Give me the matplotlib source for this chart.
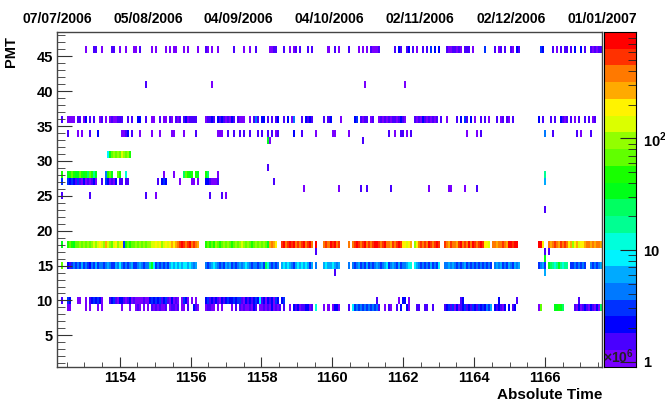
#!/usr/bin/env python3
"""
PMT hit map vs absolute time (ROOT COLZ style, log z)
"""

import colorsys
import numpy as np
import matplotlib
matplotlib.use("Agg")
import matplotlib.pyplot as plt
from matplotlib.colors import ListedColormap, BoundaryNorm
from matplotlib.ticker import MultipleLocator, FixedLocator, NullFormatter

# time axis, units of 1e6 s : 07/07/2006 -> 01/01/2007
t_min, t_max = 1152.2304, 1167.6096
n_bins = 272
n_pmt = 48
z_min, z_max = 0.9, 900.0
n_levels = 20
# one character per time bin, colour level (0 = violet ... j = red)
level_codes = "0123456789abcdefghij"

date_labels = ["07/07/2006", "05/08/2006", "04/09/2006", "04/10/2006",
               "02/11/2006", "02/12/2006", "01/01/2007"]

# (first bin, levels) pieces for each PMT row
pmt46 = [(14, "0...11..0....11..0..0...00.1.....0.0....0.0.00...0.0"),
         (70, "0...10.0..0"), (88, "1....0..0..1"),
         (106, "0011...1..0.01.1...1.1"), (135, "0"),
         (138, "1.0....1....0.0.0.10001.......1.21..12.1.0..1.1.3.2.2...10011010.1"),
         (204, "11.0"), (213, "3"), (218, "1.01.1"), (226, "10.21"), (241, "32"),
         (247, "1"), (249, "0.1.11"), (256, "1.2"), (261, "2.1"), (266, "101011")]
pmt41 = [(44, "1"), (77, "0"), (153, "0"), (173, "0")]
pmt36 = [(0, "..1..0000.11.02.1.1..01.0.0100111..1.1..22..1..00..1.00.10.101.12011"),
         (68, "11....01121.212101021.1000..0.141.22.1.1.12..1.2.04...1.2121.....1.1"),
         (136, "2....0......23.1011.01..01010101101210....101021010101.1..0....1.2.3"),
         (204, "1.2.0..1.1.0...1.01.10.1............2.1...1.1..2101.1.0.1..1.1.01...")]
pmt34 = [(0, ".....1....0.0...1...2...........0012.1...0.....0...0.....00....0...."),
         (68, ".1..........000..1..1..1.1..1...1.1..1.1.01.......2...1......0......"),
         (136, ".00......0...................1..0..11.0.1..........................."),
         (204, "0....0.1...............................4...1...........1.0....1.....")]
pmt33 = [(105, "a0"), (152, "1")]
pmt31 = [(25, "6acdcdcedcdb")]
pmt29 = [(105, "1")]
pmt28 = [(2, "b"), (5, "abcbaacbab9cb8a"), (24, "4bca"), (30, "cb"), (34, "7"),
         (53, "0"), (58, "0"), (63, "9cbab"), (69, "ba"), (74, "b9"), (80, "0"),
         (243, "8")]
pmt27 = [(2, "3"), (5, "323213102010120"), (22, "1.32"), (26, "0102"), (31, "11"),
         (34, "11"), (50, "1"), (52, "232"), (61, "0"), (67, "0"), (68, "0.0"),
         (74, "2210001"), (108, "1"), (243, "5")]
pmt26 = [(123, "0"), (140, "0"), (151, "1"), (154, "1"), (166, "1"), (185, "0"),
         (195, "00"), (203, "0"), (209, "1")]
pmt25 = [(2, "1"), (16, "1"), (44, "1"), (49, "0"), (76, "1"), (82, "1.0")]
pmt23 = [(243, "1")]
pmt18 = [(2, "a"),
         (5, "bcbaccdcdcdcdedefedgedcefdef3bcbccdcdcdcddeefefdefefgfghijihijh"),
         (68, "ihg"), (74, "bcbcbdcbcdcdcbcdcdedcdcbcdcdcd"), (104, "caghgf"),
         (112, "ijhijijhihijhijh"), (129, "j"), (133, "hih"),
         (136, "jijhi"), (145, "h"), (147, "hijihijhihijjihijhhgihiji"),
         (172, "ffefg"), (178, "dfhihihjihiji"), (193, "ihgihhgijhihj"),
         (206, "hjihijih"), (213, "ffe"), (217, "hhghhihgjjijj"), (240, "jjf"),
         (245, "hghihgihih"), (255, "fgdfgef"), (262, "fgh"), (265, "hghghhg")]
pmt17 = [(129, "1"), (243, "1"), (245, "1")]
pmt16 = [(243, "a")]
pmt15 = [(2, "c"),
         (5, "213434353432435344345433546434345334543448a63434343565656566565"),
         (68, "45"), (74, "434565434354534345456543443453"), (104, "97"),
         (106, "43434"), (112, "5656543565656535"), (129, "4"), (133, "565"),
         (136, "56545"), (145, "4"), (147, "434534353434543456345435344567"),
         (178, "6543434353436"), (193, "445454343454"),
         (204, "3434343434343"), (218, "4545343543545"), (240, "3453"),
         (245, "a9878a8788"), (256, "33434343"), (266, "434345")]
pmt14 = [(138, "1"), (243, "5")]
pmt10 = [(2, "1"),
         (5, "32...00..0.123232" "0...12310221012010000100232323123102010.0320.0"),
         (69, "0"), (74, "2312121021232232331021212326120212032"), (112, "23"),
         (159, "1"), (170, "0"), (172, "22"), (175, "0"), (201, "12"),
         (220, "2"), (229, "1"), (260, "1")]
pmt9 = [(5, "00"), (14, "0.0"), (20, "0.0"), (32, "0"), (36, "0"),
        (39, "010.0.0.10101001.01101.00.1"),
        (68, "210"), (74, "0110"), (78, "0.0.0"), (87, "0.1"), (91, "1010"),
        (95, "01021.001"), (104, "01020101"), (113, "1"), (116, "0"),
        (118, "2120112201"), (129, "7"), (133, "0.0"),
        (137, "0220"), (145, "1"), (147, "6343434343434"), (160, "1"),
        (163, "0.10"), (169, "1.2"), (174, "20"), (179, "11"), (183, "11"),
        (187, "1"), (193, "1231302012312"),
        (204, "1213213232435"), (218, "2121"), (222, "02.2"), (227, "12"),
        (240, "0c"), (248, "aaba9"), (258, "1020121021020"), (271, "9")]

rows = [(46, pmt46), (41, pmt41), (36, pmt36), (34, pmt34), (33, pmt33),
        (31, pmt31), (29, pmt29), (28, pmt28), (27, pmt27), (26, pmt26),
        (25, pmt25), (23, pmt23), (18, pmt18), (17, pmt17), (16, pmt16),
        (15, pmt15), (14, pmt14), (10, pmt10), (9, pmt9)]


def pretty_color(k):
    """ROOT 'pretty' palette (50 hues, violet -> red), sampled for contour k"""
    idx = int((k + 0.99) * 50 / n_levels)
    hue = 280.0 - idx * 280.0 / 49
    return colorsys.hls_to_rgb(hue / 360.0, 0.5, 1.0)


lo, hi = np.log10(z_min), np.log10(z_max)
step = (hi - lo) / n_levels
bounds = np.logspace(lo, hi, n_levels + 1)
centers = 10 ** (lo + (np.arange(n_levels) + 0.5) * step)
cmap = ListedColormap([pretty_color(k) for k in range(n_levels)])
norm = BoundaryNorm(bounds, n_levels)

z = np.full((n_pmt, n_bins), np.nan)
for pmt, pieces in rows:
    for start, codes in pieces:
        for j, c in enumerate(codes):
            b = start + j
            if c != '.' and b < n_bins:
                z[pmt - 1, b] = centers[level_codes.index(c)]

plt.rcParams['font.family'] = ['Liberation Sans', 'DejaVu Sans']
plt.rcParams['font.weight'] = 'bold'
plt.rcParams['mathtext.fontset'] = 'custom'
plt.rcParams['mathtext.rm'] = 'Liberation Sans:bold'
plt.rcParams['mathtext.bf'] = 'Liberation Sans:bold'

W, H = 665.0, 401.0
x0, x1, y0, y1 = 57.0, 602.0, 32.0, 366.7
fig = plt.figure(figsize=(W / 100, H / 100), dpi=100)
ax = fig.add_axes([x0 / W, 1 - y1 / H, (x1 - x0) / W, (y1 - y0) / H])
cax = fig.add_axes([604 / W, 1 - y1 / H, 31.7 / W, (y1 - y0) / H])

x_edges = np.linspace(t_min, t_max, n_bins + 1)
y_edges = np.arange(n_pmt + 1) + 0.5
ax.pcolormesh(x_edges, y_edges, np.ma.masked_invalid(z), cmap=cmap, norm=norm)
ax.set_xlim(t_min, t_max)
ax.set_ylim(0.5, n_pmt + 0.5)

ax.xaxis.set_major_locator(MultipleLocator(2))
ax.xaxis.set_minor_locator(MultipleLocator(0.5))
ax.yaxis.set_major_locator(MultipleLocator(5))
ax.yaxis.set_minor_locator(MultipleLocator(1))
ax.xaxis.set_major_formatter(plt.FuncFormatter(lambda v, p: '%d' % round(v)))
ax.tick_params(which='both', direction='in', top=False, right=False,
               color='#333333', labelsize=10.5)
ax.tick_params(axis='x', which='major', length=7, pad=3)
ax.tick_params(axis='x', which='minor', length=3.5)
ax.tick_params(axis='y', which='major', length=11, pad=3)
ax.tick_params(axis='y', which='minor', length=5.5)
for s in ax.spines.values():
    s.set_color('#444444')
    s.set_linewidth(1.0)

# palette axis
cax.pcolormesh([0, 1], bounds, centers.reshape(-1, 1), cmap=cmap, norm=norm)
cax.set_yscale('log')
cax.set_ylim(z_min, z_max)
cax.set_xlim(0, 1)
cax.set_xticks([])
cax.yaxis.set_ticks_position('right')
cax.yaxis.set_major_locator(FixedLocator([1, 10, 100]))
cax.yaxis.set_minor_locator(FixedLocator(
    [m * d for d in (1, 10, 100) for m in range(2, 10) if m * d < z_max]))
cax.yaxis.set_minor_formatter(NullFormatter())
cax.yaxis.set_major_formatter(plt.FixedFormatter(['1', '10', r'$10^{2}$']))
cax.tick_params(which='both', direction='in', color='#222222', labelsize=10.5, pad=5)
cax.tick_params(which='major', length=11.5)
cax.tick_params(which='minor', length=5.5)
for s in cax.spines.values():
    s.set_linewidth(0.8)

# top date axis
for i, lab in enumerate(date_labels):
    fig.text((x0 + i * (x1 - x0) / 6) / W, 1 - 23 / H, lab, ha='center',
             va='baseline', fontsize=10, fontweight='bold')

fig.text(x1 / W, 1 - 399 / H, 'Absolute Time', ha='right', va='baseline',
         fontsize=11, fontweight='bold')
fig.text(18 / W, 1 - 36 / H, 'PMT', ha='right', va='bottom', rotation=90,
         fontsize=10.5, fontweight='bold', rotation_mode='anchor')
fig.text(603 / W, 1 - 363 / H, r'$\times10^{6}$', ha='left', va='baseline',
         fontsize=10, fontweight='normal', color='#222222')

fig.savefig('out.png', dpi=100)
